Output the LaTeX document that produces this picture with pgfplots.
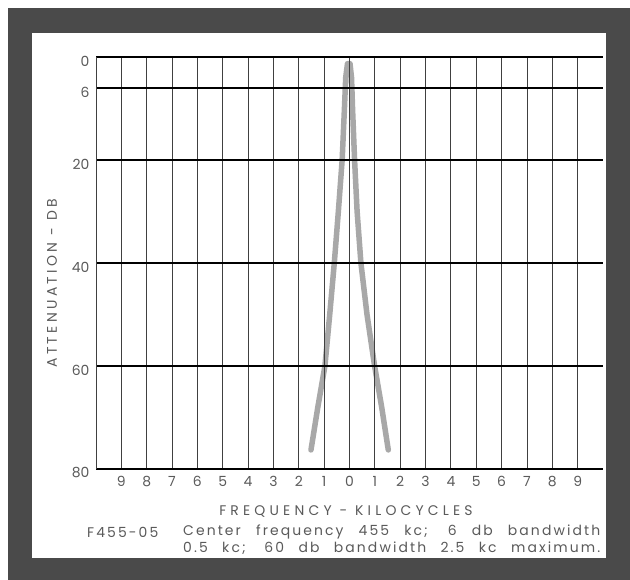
\documentclass[border=0pt]{standalone}
\usepackage{pgfplots}
\pgfplotsset{compat=1.18}
\usepackage{fontspec}
\setmainfont{Poppins}
\definecolor{framegray}{HTML}{4A4A4A}
\definecolor{curvegray}{HTML}{A8A8A8}
\definecolor{txtgray}{HTML}{5A5A5A}
\newcommand{\lbl}{\fontsize{14}{16}\selectfont\color{txtgray}}
\newcommand{\captxt}{\fontsize{14}{16}\selectfont\addfontfeatures{LetterSpace=15}\color{txtgray}}
\begin{document}
\begin{tikzpicture}[x=1bp,y=1bp]
\useasboundingbox (0,0) rectangle (630,580);
\fill[white] (0,0) rectangle (630,580);
\fill[framegray] (8,0) rectangle (630,572);
\fill[white] (32,22) rectangle (606,547);
\begin{axis}[
  at={(96bp,111bp)}, anchor=south west,
  scale only axis, width=507bp, height=412bp,
  xmin=-10, xmax=10, ymin=0, ymax=80,
  y dir=reverse,
  axis line style={draw=none},
  major tick length=0pt,
  clip=false, axis on top,
  /pgf/number format/assume math mode=true,
  xtick={-9,...,9},
  xticklabels={9,8,7,6,5,4,3,2,1,0,1,2,3,4,5,6,7,8,9},
  extra x ticks={-10}, extra x tick labels={},
  extra x tick style={grid=major},
  ytick={0,6,20,40,60,80},
  xmajorgrids, ymajorgrids,
  x grid style={black!75, line width=0.9bp},
  y grid style={black, line width=1.8bp},
  tick label style={font=\lbl},
  xticklabel style={yshift=-4bp},
  yticklabel style={yshift=-4bp, xshift=-3bp},
  xlabel={FREQUENCY - KILOCYCLES},
  ylabel={ATTENUATION - DB},
  xlabel style={font=\lbl\addfontfeatures{LetterSpace=30}, at={(axis description cs:0.493,-0.102)}, anchor=center},
  ylabel style={font=\lbl\addfontfeatures{LetterSpace=24}, at={(axis description cs:-0.0868,0.451)}, anchor=center},
]
\addplot[color=curvegray, line width=5.5bp, line cap=round, line join=round] coordinates {
(-1.52,76.3) (-1.25,68) (-0.97,60) (-0.78,50) (-0.60,40) (-0.44,30) (-0.29,20)
(-0.20,10) (-0.15,4) (-0.08,1.3) (0.02,1.3) (0.08,4) (0.12,10) (0.20,20)
(0.30,30) (0.45,40) (0.69,50) (0.99,60) (1.27,68) (1.53,76.3)
};
\end{axis}
\node[anchor=west, font=\captxt, inner sep=0] at (87,48) {F455-05};
\node[anchor=west, font=\captxt, inner sep=0] at (183,48) {\makebox[417bp][s]{Center frequency 455 kc; 6 db bandwidth}};
\node[anchor=west, font=\captxt, inner sep=0] at (183,32) {\makebox[417bp][s]{0.5 kc; 60 db bandwidth 2.5 kc maximum.}};
\end{tikzpicture}
\end{document}
